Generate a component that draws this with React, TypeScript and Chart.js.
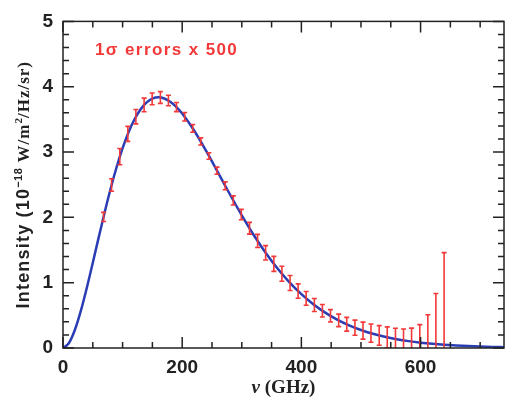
import React, { useEffect, useRef } from "react";
import { Chart, registerables } from "chart.js";
Chart.register(...registerables);

// Blackbody curve (T = 2.725 K), intensity in 1e-18 W/m^2/Hz/sr
const curveFreq = [0, 10, 20, 30, 40, 50, 60, 70, 80, 90, 100, 110, 120, 130, 140, 150, 160, 170, 180, 190, 200, 220, 240, 260, 280, 300, 320, 340, 360, 380, 400, 420, 440, 460, 480, 500, 520, 540, 560, 580, 600, 620, 640, 660, 680, 700, 720, 740];
const curveIntensity = [0, 0.0766, 0.2794, 0.5719, 0.9227, 1.3051, 1.6971, 2.0808, 2.4421, 2.7709, 3.0598, 3.3043, 3.5019, 3.6524, 3.7568, 3.8172, 3.837, 3.8202, 3.7705, 3.6922, 3.5898, 3.3296, 3.0204, 2.6884, 2.3536, 2.031, 1.7305, 1.4579, 1.2159, 1.0049, 0.8239, 0.6704, 0.5419, 0.4353, 0.3477, 0.2763, 0.2186, 0.1721, 0.1349, 0.1054, 0.0821, 0.0637, 0.0492, 0.038, 0.0292, 0.0224, 0.0171, 0.0131];

// FIRAS measurements
const dataFreq = [68.1, 81.5, 95.3, 108.8, 122.3, 136.1, 149.6, 163.4, 176.9, 190.4, 204.2, 217.7, 231.1, 244.9, 258.4, 272.2, 285.7, 299.2, 313.0, 326.5, 340.0, 353.8, 367.3, 381.0, 394.5, 408.0, 421.8, 435.3, 448.8, 462.6, 476.1, 489.9, 503.4, 516.8, 530.6, 544.1, 557.9, 571.4, 584.9, 598.7, 612.2, 625.7, 639.5];
const dataIntensity = [2.007, 2.495, 2.93, 3.278, 3.541, 3.721, 3.815, 3.835, 3.789, 3.688, 3.541, 3.362, 3.162, 2.939, 2.714, 2.483, 2.259, 2.043, 1.833, 1.639, 1.458, 1.288, 1.136, 0.995, 0.871, 0.759, 0.658, 0.57, 0.492, 0.423, 0.364, 0.311, 0.266, 0.227, 0.193, 0.164, 0.138, 0.117, 0.099, 0.083, 0.07, 0.059, 0.05];
// 1-sigma errors multiplied by 500
const dataError = [0.07, 0.095, 0.125, 0.115, 0.11, 0.105, 0.09, 0.09, 0.08, 0.07, 0.065, 0.06, 0.055, 0.05, 0.055, 0.06, 0.07, 0.08, 0.09, 0.1, 0.11, 0.115, 0.115, 0.115, 0.11, 0.105, 0.1, 0.095, 0.095, 0.095, 0.105, 0.115, 0.13, 0.14, 0.15, 0.16, 0.165, 0.175, 0.205, 0.275, 0.44, 0.775, 1.41];

const xTickLabels = [0, 200, 400, 600];
const yTickLabels = [0, 1, 2, 3, 4, 5];
const xMinorTicks = [0, 50, 100, 150, 200, 250, 300, 350, 400, 450, 500, 550, 600, 650, 700];
const yMinorTicks = [0, 0.2, 0.4, 0.6, 0.8, 1, 1.2, 1.4, 1.6, 1.8, 2, 2.2, 2.4, 2.6, 2.8, 3, 3.2, 3.4, 3.6, 3.8, 4, 4.2, 4.4, 4.6, 4.8, 5];
const annotationText = "1σ errors x 500";
const xTitleSymbol = "ν";
const xTitleUnit = " (GHz)";
const yTitleParts = ["Intensity (10", "−18", " W/m", "2", "/Hz/sr)"];

const RED = "#f23838";
const BLUE = "#2a3db5";
const INK = "#222";
const SANS = "'Liberation Sans', Arial, sans-serif";
const SERIF = "'Liberation Serif', 'Times New Roman', serif";

const errorBarsPlugin = {
  id: "errorBars",
  afterDatasetsDraw(chart: any) {
    const { ctx, chartArea, scales } = chart;
    const xs = scales.x, ys = scales.y;
    ctx.save();
    ctx.beginPath();
    ctx.rect(chartArea.left, chartArea.top, chartArea.right - chartArea.left, chartArea.bottom - chartArea.top);
    ctx.clip();
    ctx.strokeStyle = RED;
    ctx.lineWidth = 1.6;
    for (let i = 0; i < dataFreq.length; i++) {
      const px = xs.getPixelForValue(dataFreq[i]);
      const lo = Math.max(0, dataIntensity[i] - dataError[i]);
      const hi = dataIntensity[i] + dataError[i];
      const pLo = ys.getPixelForValue(lo);
      const pHi = ys.getPixelForValue(hi);
      ctx.beginPath();
      ctx.moveTo(px, pLo);
      ctx.lineTo(px, pHi);
      ctx.moveTo(px - 2.5, pHi);
      ctx.lineTo(px + 2.5, pHi);
      if (dataIntensity[i] - dataError[i] > 0) {
        ctx.moveTo(px - 2.5, pLo);
        ctx.lineTo(px + 2.5, pLo);
      }
      ctx.stroke();
    }
    ctx.restore();
  },
};

const framePlugin = {
  id: "frame",
  afterDraw(chart: any) {
    const { ctx, chartArea, scales } = chart;
    const { left, right, top, bottom } = chartArea;
    const xs = scales.x, ys = scales.y;
    ctx.save();
    ctx.strokeStyle = INK;
    ctx.lineWidth = 1.5;
    ctx.strokeRect(left, top, right - left, bottom - top);
    ctx.beginPath();
    const major = 11, minor = 6;
    xMinorTicks.forEach((v) => {
      const px = xs.getPixelForValue(v);
      const len = xTickLabels.includes(v) ? major : minor;
      ctx.moveTo(px, bottom);
      ctx.lineTo(px, bottom - len);
      ctx.moveTo(px, top);
      ctx.lineTo(px, top + len);
    });
    yMinorTicks.forEach((v) => {
      const py = ys.getPixelForValue(v);
      const len = yTickLabels.some((t) => Math.abs(t - v) < 1e-6) ? major : minor;
      ctx.moveTo(left, py);
      ctx.lineTo(left + len, py);
      ctx.moveTo(right, py);
      ctx.lineTo(right - len, py);
    });
    ctx.stroke();

    // annotation
    ctx.fillStyle = RED;
    ctx.font = `bold 17px ${SANS}`;
    (ctx as any).letterSpacing = "1.4px";
    ctx.textBaseline = "middle";
    ctx.textAlign = "left";
    ctx.fillText(annotationText, left + 32, top + 29);
    (ctx as any).letterSpacing = "0px";

    // x title
    ctx.fillStyle = INK;
    ctx.textBaseline = "alphabetic";
    const fSym = `italic bold 19px ${SERIF}`;
    const fUnit = `bold 19px ${SERIF}`;
    ctx.font = fSym;
    const wSym = ctx.measureText(xTitleSymbol).width;
    ctx.font = fUnit;
    const wUnit = ctx.measureText(xTitleUnit).width;
    const cx = (left + right) / 2;
    const sx = cx - (wSym + wUnit) / 2;
    const by = 393;
    ctx.font = fSym;
    ctx.fillText(xTitleSymbol, sx, by);
    ctx.font = fUnit;
    ctx.fillText(xTitleUnit, sx + wSym, by);

    // y title (rotated, mixed fonts)
    const fonts = [`bold 18px ${SANS}`, `bold 11px ${SANS}`, `bold 17px ${SERIF}`, `bold 11px ${SERIF}`, `bold 17px ${SERIF}`];
    const spacing = ["1.2px", "0.5px", "1px", "0px", "1px"];
    const shift = [0, -7, 0, -7, 0];
    const widths = yTitleParts.map((t, i) => {
      ctx.font = fonts[i];
      (ctx as any).letterSpacing = spacing[i];
      return ctx.measureText(t).width;
    });
    const total = widths.reduce((a, b) => a + b, 0);
    ctx.translate(29, (top + bottom) / 2);
    ctx.rotate(-Math.PI / 2);
    let px = -total / 2;
    yTitleParts.forEach((t, i) => {
      ctx.font = fonts[i];
      (ctx as any).letterSpacing = spacing[i];
      ctx.fillText(t, px, shift[i]);
      px += widths[i];
    });
    ctx.restore();
  },
};

export default function App() {
  const ref = useRef<HTMLCanvasElement | null>(null);
  useEffect(() => {
    document.body.style.margin = "0";
    const canvas = ref.current;
    if (!canvas) return;
    const tickFont = { family: SANS, size: 19, weight: "bold" as const };
    const chart = new Chart(canvas, {
      type: "line",
      data: {
        datasets: [
          {
            data: curveFreq.map((f, i) => ({ x: f, y: curveIntensity[i] })),
            borderColor: BLUE,
            borderWidth: 2.5,
            pointRadius: 0,
            cubicInterpolationMode: "monotone",
            fill: false,
          },
        ],
      },
      options: {
        animation: false,
        responsive: true,
        maintainAspectRatio: false,
        layout: { padding: { top: 15, right: 1, left: 0, bottom: 0 } },
        plugins: { legend: { display: false }, tooltip: { enabled: false } },
        scales: {
          x: {
            type: "linear",
            min: 0,
            max: 740,
            afterBuildTicks: (s: any) => { s.ticks = xTickLabels.map((v) => ({ value: v })); },
            afterFit: (s: any) => { s.height = 51; },
            grid: { display: false, drawTicks: false },
            border: { display: false },
            ticks: { font: tickFont, color: INK, padding: 8, maxRotation: 0 },
          },
          y: {
            type: "linear",
            min: 0,
            max: 5,
            afterBuildTicks: (s: any) => { s.ticks = yTickLabels.map((v) => ({ value: v })); },
            afterFit: (s: any) => { s.width = 63; },
            grid: { display: false, drawTicks: false },
            border: { display: false },
            ticks: { font: tickFont, color: INK, padding: 10 },
          },
        },
      },
      plugins: [errorBarsPlugin, framePlugin],
    });
    return () => chart.destroy();
  }, []);
  return (
    <div style={{ width: 505, height: 399, position: "relative", background: "#fff" }}>
      <canvas ref={ref} />
    </div>
  );
}
